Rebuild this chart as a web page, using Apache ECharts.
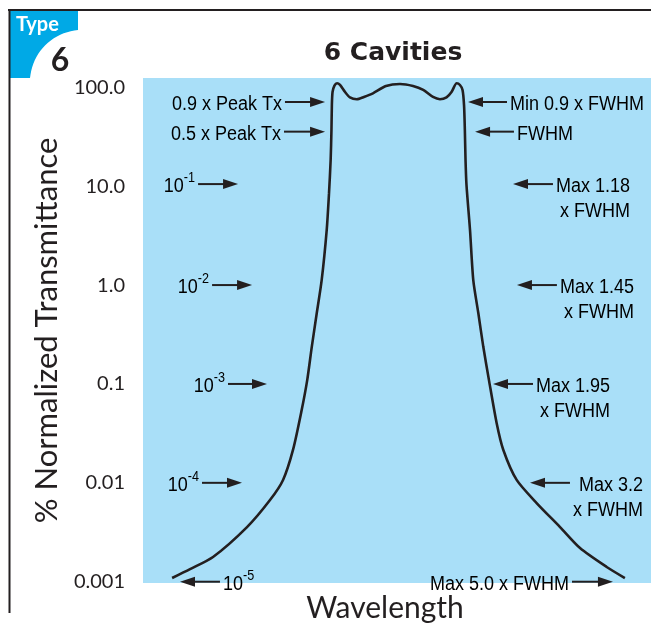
<!DOCTYPE html>
<html>
<head>
<meta charset="utf-8">
<script src="https://cdn.jsdelivr.net/npm/echarts@6/dist/echarts.min.js"></script>
<style>
  html, body { margin: 0; padding: 0; background: #fff; }
  #main { width: 651px; height: 626px; }
</style>
</head>
<body>
<div id="main"></div>
<script>
// filter profile, x = wavelength offset in FWHM units, y = % normalized transmittance
var curveX = [-1.665, -1.533, -1.364, -1.114, -0.945, -0.849, -0.776, -0.712, -0.671, -0.638,
  -0.601, -0.565, -0.528, -0.511, -0.499, -0.493, -0.490, -0.485, -0.471, -0.452,
  -0.430, -0.393, -0.357, -0.307, -0.254, -0.188, -0.092, 0.011,
  0.107, 0.182, 0.254, 0.305, 0.353, 0.390, 0.428, 0.452, 0.471, 0.482,
  0.488, 0.493, 0.500, 0.526, 0.550, 0.587, 0.624, 0.665, 0.722, 0.771,
  0.869, 1.016, 1.188, 1.335, 1.531, 1.665];
var curveY = [0.00109, 0.00134, 0.00178, 0.00357, 0.0067, 0.0107, 0.0215, 0.0545, 0.110, 0.236,
  0.521, 1.12, 3.6, 8.5, 18.4, 37, 66, 89.6, 104, 110,
  105.5, 89.6, 79, 75.6, 79.8, 86.9, 103, 108,
  103, 94, 79.8, 75.6, 79, 89.6, 110, 105.5, 94, 66,
  37, 18.4, 10.3, 3.6, 1.12, 0.521, 0.236, 0.110, 0.0401, 0.0215,
  0.0107, 0.00625, 0.00357, 0.00219, 0.00141, 0.00109];

var yTickExps = [-3, -2, -1, 0, 1, 2];
var yTickLabels = ['0.001', '0.01', '0.1', '1.0', '10.0', '100.0'];

// notes left of the curve (arrows point right, except the last one)
var leftNotes = ['0.9 x Peak Tx', '0.5 x Peak Tx', '10^-1', '10^-2', '10^-3', '10^-4', '10^-5'];
var leftLevels = [71, 35.6, 10.5, 1.0, 0.1, 0.01, 0.001];
var leftTail = [-0.835, -0.842, -1.474, -1.371, -1.254, -1.445, -1.313];
var leftHead = [-0.540, -0.540, -1.180, -1.077, -0.967, -1.151, -1.607];

// notes right of the curve
var rightNotes = ['Min 0.9 x FWHM', 'FWHM', 'Max 1.18\nx FWHM', 'Max 1.45\nx FWHM',
  'Max 1.95\nx FWHM', 'Max 3.2\nx FWHM', 'Max 5.0 x FWHM'];
var rightLevels = [71, 35.6, 10.5, 1.0, 0.1, 0.01, 0.001];
var rightTail = [0.798, 0.849, 1.136, 1.165, 0.989, 1.261, 1.276];
var rightHead = [0.511, 0.563, 0.842, 0.871, 0.695, 0.967, 1.577];

var ink = '#231f20';
var noteFont = '"Liberation Sans", Arial, sans-serif';

var curve = curveX.map(function (x, i) { return [x, curveY[i]]; });

var chart = echarts.init(document.getElementById('main'));

chart.setOption({
  animation: false,
  title: {
    text: '6 Cavities',
    left: 388,
    top: 36,
    textAlign: 'center',
    textStyle: { fontFamily: 'DejaVu Sans', fontWeight: 'bold', fontSize: 25, color: ink }
  },
  grid: {
    left: 143, right: 0, top: 78, bottom: 43,
    outerBoundsMode: 'none',
    containLabel: false,
    show: true, backgroundColor: '#a9dff8', borderWidth: 0
  },
  xAxis: {
    type: 'value',
    min: -1.879, max: 1.857,
    name: 'Wavelength',
    nameLocation: 'middle',
    nameGap: 10,
    nameTextStyle: {
      fontFamily: 'Lato', fontSize: 30, color: ink,
      verticalAlign: 'top', padding: [0, 24, 0, 0]
    },
    axisLine: { show: false },
    axisTick: { show: false },
    axisLabel: { show: false },
    splitLine: { show: false }
  },
  yAxis: {
    type: 'log',
    min: Math.pow(10, -3.013),
    max: Math.pow(10, 2.094),
    name: '% Normalized Transmittance',
    nameLocation: 'middle',
    nameGap: 81,
    nameTextStyle: { fontFamily: 'Lato', fontSize: 31, color: ink },
    axisLine: { show: false },
    axisTick: { show: false },
    splitLine: { show: false },
    axisLabel: {
      margin: 18,
      fontFamily: 'Lato',
      fontSize: 20,
      color: ink,
      formatter: function (v) {
        var lg = Math.log10(v);
        var k = Math.round(lg);
        if (Math.abs(lg - k) > 1e-4) return '';
        var idx = yTickExps.indexOf(k);
        return idx < 0 ? '' : yTickLabels[idx];
      }
    }
  },
  series: [{
    type: 'line',
    data: curve,
    smooth: 0.25,
    symbol: 'none',
    lineStyle: { color: ink, width: 2.6 },
    z: 3
  }]
});

function richText(s) {
  // 10^-1 -> base + superscript, multi-line notes -> right aligned lines
  return s.split('\n').map(function (line) {
    var p = line.split('^');
    return p.length > 1 ? '{n|' + p[0] + '}{s|' + p[1] + '}' : '{n|' + line + '}';
  }).join('\n');
}

var noteRich = {
  n: { fontFamily: noteFont, fontSize: 20, lineHeight: 25, color: ink, align: 'right', verticalAlign: 'bottom' },
  s: { fontFamily: noteFont, fontSize: 14, lineHeight: 12, color: ink, verticalAlign: 'top' }
};

function noteGraphics(texts, levels, tails, heads) {
  var out = [];
  texts.forEach(function (t, i) {
    var a = chart.convertToPixel({ xAxisIndex: 0, yAxisIndex: 0 }, [tails[i], levels[i]]);
    var b = chart.convertToPixel({ xAxisIndex: 0, yAxisIndex: 0 }, [heads[i], levels[i]]);
    var d = b[0] > a[0] ? 1 : -1;
    out.push({
      type: 'line', z: 10,
      shape: { x1: a[0], y1: a[1], x2: b[0] - d * 10, y2: b[1] },
      style: { stroke: ink, lineWidth: 2 }
    });
    out.push({
      type: 'polygon', z: 10,
      shape: { points: [[b[0], b[1]], [b[0] - d * 15, b[1] - 5], [b[0] - d * 15, b[1] + 5]] },
      style: { fill: ink }
    });
    out.push({
      type: 'text', z: 10,
      x: d > 0 ? a[0] - 3 : a[0] + 3,
      y: a[1] - 12.5,
      scaleX: 0.9,
      style: {
        text: richText(t),
        rich: noteRich,
        align: d > 0 ? 'right' : 'left',
        verticalAlign: 'top'
      }
    });
  });
  return out;
}

// corner badge outline: square with a round cut at the lower right
var badge = [[10, 10], [78, 10], [78, 30]];
for (var k = 1; k < 20; k++) {
  var ang = (265.6 - (265.6 - 184.4) * k / 20) * Math.PI / 180;
  badge.push([82 + 52 * Math.cos(ang), 82 + 52 * Math.sin(ang)]);
}
badge.push([30, 78], [10, 78]);

var graphics = [
  { type: 'polygon', shape: { points: badge }, style: { fill: '#00a9e6' } },
  { type: 'line', shape: { x1: 8, y1: 10, x2: 651, y2: 10 }, style: { stroke: ink, lineWidth: 2 } },
  { type: 'line', shape: { x1: 9.5, y1: 9, x2: 9.5, y2: 613 }, style: { stroke: ink, lineWidth: 2 } },
  { type: 'text', x: 16, y: 15, style: { text: 'Type', fill: '#fff', font: 'bold 20px Lato' } },
  { type: 'text', x: 60, y: 61, style: { text: '6', fill: ink, font: 'bold 32px Lato', align: 'center', verticalAlign: 'middle' } }
];

chart.setOption({
  graphic: graphics
    .concat(noteGraphics(leftNotes, leftLevels, leftTail, leftHead))
    .concat(noteGraphics(rightNotes, rightLevels, rightTail, rightHead))
});
</script>
</body>
</html>
